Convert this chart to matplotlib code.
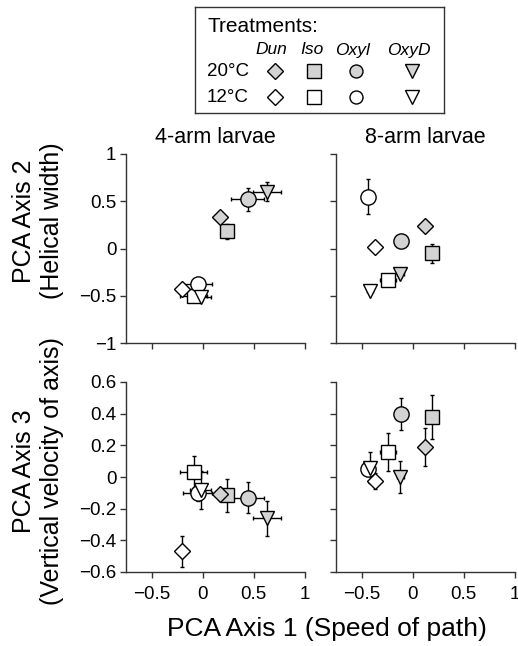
import matplotlib
matplotlib.use("Agg")
import matplotlib.pyplot as plt

plt.rcParams['font.family'] = ['Liberation Sans', 'DejaVu Sans']

# treatment order used in every array below
treatments = ['Dun', 'Iso', 'Oxyl', 'OxyD']
temps = ['20°C', '12°C']
markers = ['D', 's', 'o', 'v']
msizes = [8.3, 9.5, 11, 10.5]
fills = ['#d3d3d3', 'white']

# PCA axis 1 (shared between the two rows)
pc1_4arm_20 = [0.17, 0.24, 0.44, 0.63]
pc1_4arm_20_err = [0.04, 0.06, 0.16, 0.14]
pc1_4arm_12 = [-0.20, -0.09, -0.05, -0.02]
pc1_4arm_12_err = [0.03, 0.13, 0.14, 0.10]
pc1_8arm_20 = [0.12, 0.19, -0.11, -0.12]
pc1_8arm_20_err = [0.03, 0.06, 0.03, 0.03]
pc1_8arm_12 = [-0.37, -0.24, -0.44, -0.42]
pc1_8arm_12_err = [0.03, 0.08, 0.03, 0.03]

# PCA axis 2 (helical width)
pc2_4arm_20 = [0.33, 0.18, 0.52, 0.60]
pc2_4arm_20_err = [0.03, 0.08, 0.12, 0.10]
pc2_4arm_12 = [-0.43, -0.50, -0.38, -0.51]
pc2_4arm_12_err = [0.03, 0.04, 0.04, 0.05]
pc2_8arm_20 = [0.24, -0.05, 0.08, -0.27]
pc2_8arm_20_err = [0.03, 0.10, 0.05, 0.03]
pc2_8arm_12 = [0.02, -0.33, 0.55, -0.45]
pc2_8arm_12_err = [0.03, 0.05, 0.19, 0.03]

# PCA axis 3 (vertical velocity of axis)
pc3_4arm_20 = [-0.105, -0.115, -0.13, -0.26]
pc3_4arm_20_err = [0.03, 0.105, 0.10, 0.11]
pc3_4arm_12 = [-0.47, 0.03, -0.10, -0.08]
pc3_4arm_12_err = [0.10, 0.10, 0.05, 0.12]
pc3_8arm_20 = [0.19, 0.38, 0.40, 0.00]
pc3_8arm_20_err = [0.12, 0.14, 0.10, 0.10]
pc3_8arm_12 = [-0.025, 0.16, 0.05, 0.06]
pc3_8arm_12_err = [0.05, 0.12, 0.03, 0.10]

x_ticks = [-0.5, 0, 0.5, 1]
x_ticklabels = ['\u22120.5', '0', '0.5', '1']
y2_ticks = [-1, -0.5, 0, 0.5, 1]
y2_ticklabels = ['\u22121', '\u22120.5', '0', '0.5', '1']
y3_ticks = [-0.6, -0.4, -0.2, 0, 0.2, 0.4, 0.6]
y3_ticklabels = ['\u22120.6', '\u22120.4', '\u22120.2', '0', '0.2', '0.4', '0.6']

W, H = 518, 646
fig = plt.figure(figsize=(W / 100, H / 100), dpi=100)

def px_axes(x0, y0, x1, y1):
    return fig.add_axes([x0 / W, 1 - y1 / H, (x1 - x0) / W, (y1 - y0) / H])

ax_tl = px_axes(126, 154, 305, 343)
ax_tr = px_axes(336, 154, 515, 343)
ax_bl = px_axes(126, 382, 305, 572)
ax_br = px_axes(336, 382, 515, 572)

draw_order = [1, 2, 3, 0]

panels = [
    (ax_tl, [pc1_4arm_20, pc1_4arm_12], [pc1_4arm_20_err, pc1_4arm_12_err],
     [pc2_4arm_20, pc2_4arm_12], [pc2_4arm_20_err, pc2_4arm_12_err]),
    (ax_tr, [pc1_8arm_20, pc1_8arm_12], [pc1_8arm_20_err, pc1_8arm_12_err],
     [pc2_8arm_20, pc2_8arm_12], [pc2_8arm_20_err, pc2_8arm_12_err]),
    (ax_bl, [pc1_4arm_20, pc1_4arm_12], [pc1_4arm_20_err, pc1_4arm_12_err],
     [pc3_4arm_20, pc3_4arm_12], [pc3_4arm_20_err, pc3_4arm_12_err]),
    (ax_br, [pc1_8arm_20, pc1_8arm_12], [pc1_8arm_20_err, pc1_8arm_12_err],
     [pc3_8arm_20, pc3_8arm_12], [pc3_8arm_20_err, pc3_8arm_12_err]),
]

for ax, xs, xes, ys, yes in panels:
    for i in draw_order:
        for t in range(2):
            ax.errorbar(xs[t][i], ys[t][i], xerr=xes[t][i], yerr=yes[t][i],
                        fmt=markers[i], ms=msizes[i], mfc=fills[t], mec='black',
                        mew=1.0, ecolor='black', elinewidth=1.0, capsize=1.5)
    ax.set_xlim(-0.75, 1)
    ax.set_xticks(x_ticks)
    for side in ['top', 'right']:
        ax.spines[side].set_visible(False)
    for side in ['left', 'bottom']:
        ax.spines[side].set_color('#333333')
        ax.spines[side].set_linewidth(1.0)
    ax.tick_params(direction='out', length=4, width=1.0, color='#333333',
                   labelsize=13.5, pad=3)
    ax.tick_params(axis='x', pad=6)

for ax in [ax_tl, ax_tr]:
    ax.set_ylim(-1, 1)
    ax.set_yticks(y2_ticks)
    ax.set_xticklabels([])
for ax in [ax_bl, ax_br]:
    ax.set_ylim(-0.6, 0.6)
    ax.set_yticks(y3_ticks)
    ax.set_xticklabels(x_ticklabels)
ax_tl.set_yticklabels(y2_ticklabels)
ax_bl.set_yticklabels(y3_ticklabels)
ax_tr.set_yticklabels([])
ax_br.set_yticklabels([])

ax_tl.set_title('4-arm larvae', fontsize=15.5, pad=8)
ax_tr.set_title('8-arm larvae', fontsize=15.5, pad=8)

fig.text(38 / W, 1 - 221 / H, 'PCA Axis 2\n(Helical width)', fontsize=18,
         rotation=90, ha='center', va='center', multialignment='center')
fig.text(38 / W, 1 - 471 / H, 'PCA Axis 3\n(Vertical velocity of axis)',
         fontsize=18, rotation=90, ha='center', va='center',
         multialignment='center')
fig.text(327 / W, 1 - 636 / H, 'PCA Axis 1 (Speed of path)', fontsize=19,
         ha='center', va='baseline')

# legend box drawn as its own small axes
leg = px_axes(195, 7, 444, 113)
leg.set_xlim(0, 249)
leg.set_ylim(106, 0)
leg.set_xticks([])
leg.set_yticks([])
for s in leg.spines.values():
    s.set_linewidth(1.0)
    s.set_color('#333333')
head_x = [76, 117, 158, 214]
col_x = [80, 119, 161, 217]
row_y = [64, 90]
leg.text(12, 20, 'Treatments:', fontsize=15, va='center', ha='left')
for i, name in enumerate(treatments):
    leg.text(head_x[i], 43, name, fontsize=12.5, style='italic',
             ha='center', va='center')
for t, temp in enumerate(temps):
    leg.text(12, row_y[t], temp, fontsize=13.5, ha='left', va='center')
    for i in range(len(treatments)):
        leg.plot(col_x[i], row_y[t], markers[i],
                 ms=msizes[i] * (0.85 if markers[i] == 'o' else 1.0),
                 mfc=fills[t], mec='black', mew=1.0)

fig.savefig('out.png', dpi=100)
